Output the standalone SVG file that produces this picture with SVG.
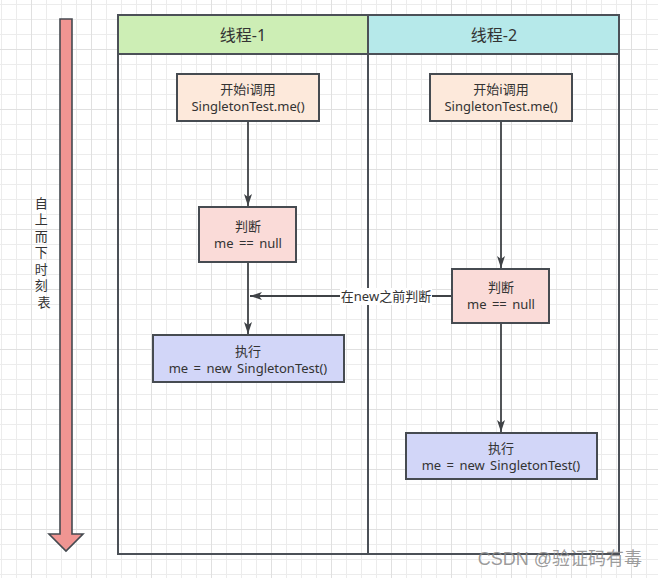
<svg xmlns="http://www.w3.org/2000/svg" width="658" height="578" viewBox="0 0 658 578">
<defs>
<pattern id="gMinor" patternUnits="userSpaceOnUse" x="1" y="4" width="15" height="15">
<path d="M0.5,0 V15 M0,0.5 H15" stroke="#ececec" stroke-width="1" fill="none"/>
</pattern>
<pattern id="gMajor" patternUnits="userSpaceOnUse" x="31" y="49" width="60" height="60">
<path d="M0.5,0 V60 M0,0.5 H60" stroke="#e0e0e0" stroke-width="1" fill="none"/>
</pattern>
<marker id="arr" viewBox="0 0 12 8" refX="12" refY="4" markerWidth="12" markerHeight="8" markerUnits="userSpaceOnUse" orient="auto">
<path d="M0,0 L12,4 L0,8 L3,4 Z" fill="#3f4246"/>
</marker>
</defs>
<style>
.t{font-family:"Noto Sans","Noto Sans CJK SC",sans-serif;font-size:13px;fill:#333333;text-anchor:middle;word-spacing:2px;}
.h{font-size:16px;}
.box{stroke:#464b51;stroke-width:2;}
.lane{stroke:#4b5057;stroke-width:2;}
.c{stroke:#3f4246;stroke-width:1.8;fill:none;marker-end:url(#arr);}
</style>
<rect x="0" y="0" width="658" height="578" fill="#ffffff"/>
<rect x="0" y="0" width="658" height="578" fill="url(#gMinor)"/>
<rect x="0" y="0" width="658" height="578" fill="url(#gMajor)"/>

<g id="timeline">
<path d="M60,19 H72 V534 H83 L66,551 L49,534 H60 Z" fill="#f09592" stroke="#454a50" stroke-width="1.6" stroke-linejoin="miter"/>
<text class="t" x="44">
<tspan x="44" y="207.5">自</tspan>
<tspan x="44" y="224">上</tspan>
<tspan x="44" y="240.5">而</tspan>
<tspan x="44" y="257">下</tspan>
<tspan x="44" y="273.5">时</tspan>
<tspan x="44" y="290">刻</tspan>
<tspan x="44" y="306.5">表</tspan>
</text>
</g>

<g id="lane1">
<rect class="lane" x="118" y="54" width="250" height="500" fill="none"/>
<rect class="lane" x="118" y="15" width="250" height="39" fill="#cdeeb5"/>
<text class="t h" x="243" y="41">线程-1</text>
</g>
<g id="lane2">
<rect class="lane" x="368" y="54" width="251" height="500" fill="none"/>
<rect class="lane" x="368" y="15" width="251" height="39" fill="#b6e9ea"/>
<text class="t h" x="494" y="41">线程-2</text>
</g>

<g id="start1">
<rect class="box" x="177" y="74" width="142" height="47" fill="#fde9db"/>
<text class="t"><tspan x="248" y="94">开始i调用</tspan><tspan x="248" y="111">SingletonTest.me()</tspan></text>
</g>
<g id="judge1">
<rect class="box" x="199" y="207" width="97" height="55" fill="#fadbd8"/>
<text class="t"><tspan x="248" y="231">判断</tspan><tspan x="248" y="248">me == null</tspan></text>
</g>
<g id="exec1">
<rect class="box" x="153" y="335" width="191" height="47" fill="#d2d6f8"/>
<text class="t"><tspan x="248" y="356">执行</tspan><tspan x="248" y="373">me = new SingletonTest()</tspan></text>
</g>

<g id="start2">
<rect class="box" x="430" y="74" width="142" height="47" fill="#fde9db"/>
<text class="t"><tspan x="501" y="94">开始i调用</tspan><tspan x="501" y="111">SingletonTest.me()</tspan></text>
</g>
<g id="judge2">
<rect class="box" x="452" y="269" width="97" height="54" fill="#fadbd8"/>
<text class="t"><tspan x="501" y="292">判断</tspan><tspan x="501" y="309">me == null</tspan></text>
</g>
<g id="exec2">
<rect class="box" x="406" y="433" width="191" height="46" fill="#d2d6f8"/>
<text class="t"><tspan x="501" y="453">执行</tspan><tspan x="501" y="470">me = new SingletonTest()</tspan></text>
</g>

<g id="connectors">
<path class="c" d="M248,122 V206"/>
<path class="c" d="M248,263 V334"/>
<path class="c" d="M501,122 V268"/>
<path class="c" d="M501,324 V432"/>
<path class="c" d="M451,296 H250"/>
<rect x="340" y="288" width="92" height="17" fill="#ffffff"/>
<text class="t" x="386" y="301">在new之前判断</text>
</g>

<text x="642" y="565" text-anchor="end" font-family="'Liberation Sans','Noto Sans CJK SC',sans-serif" font-size="18" fill="#8a8a8a" fill-opacity="0.85">CSDN @验证码有毒</text>
</svg>
